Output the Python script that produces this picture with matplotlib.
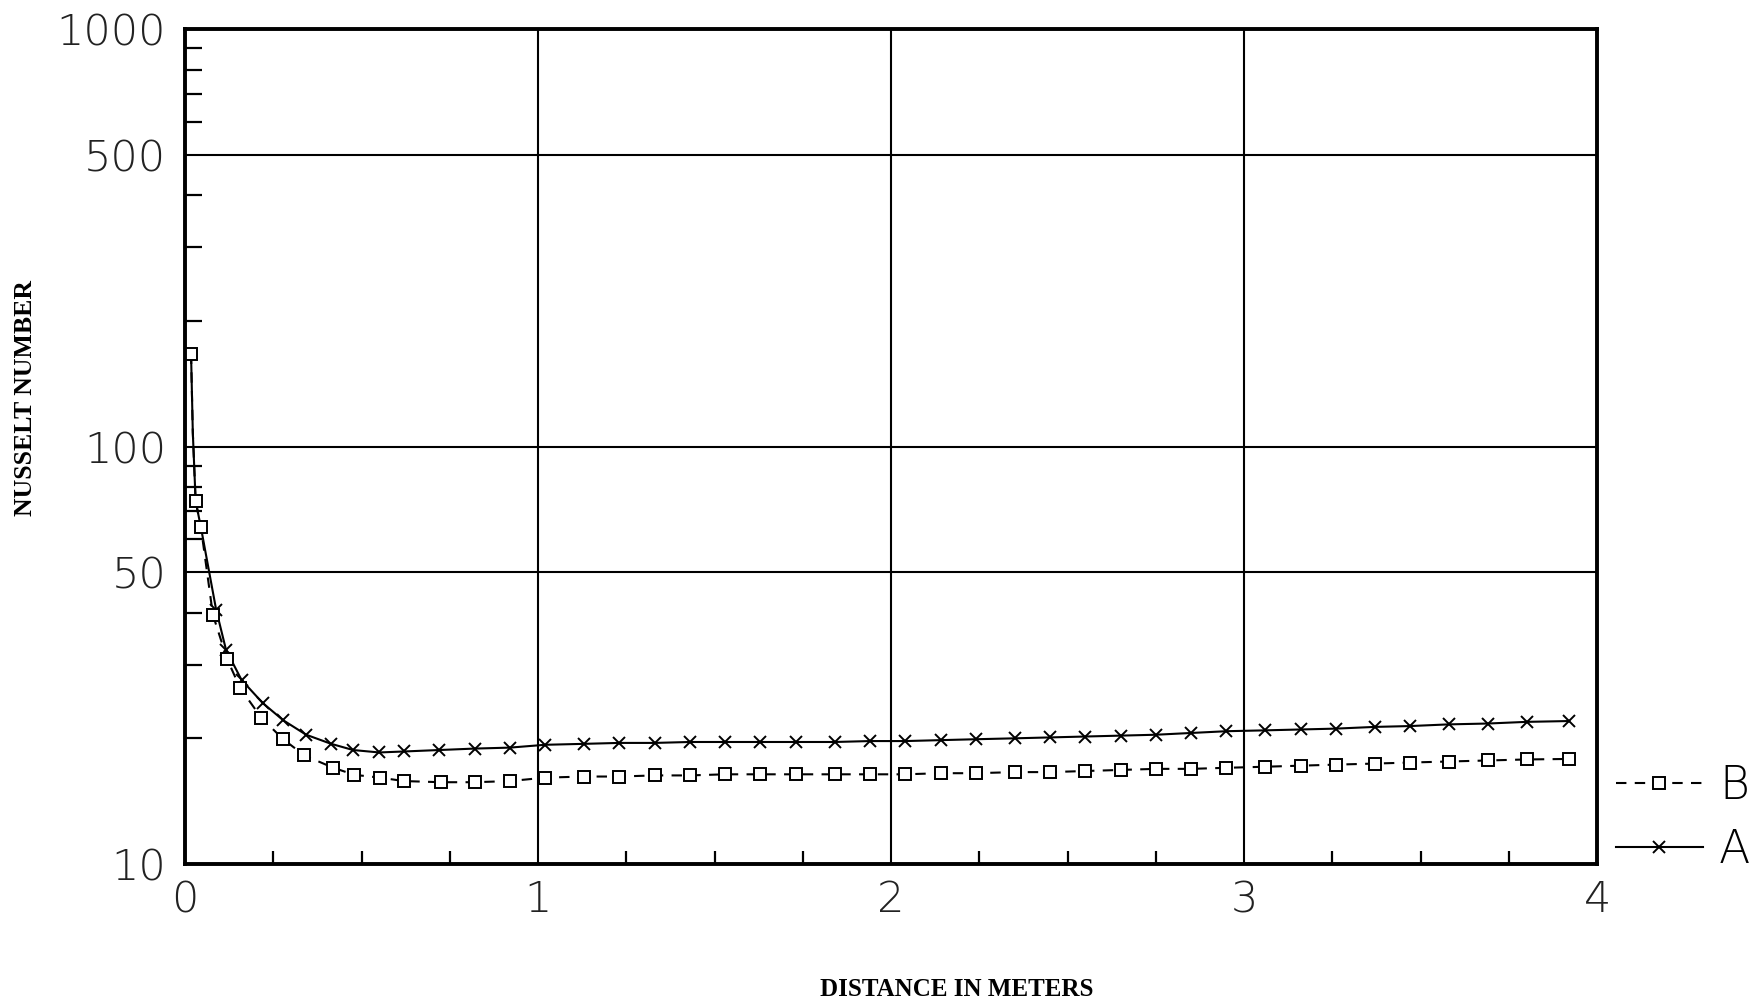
import matplotlib
matplotlib.use("Agg")
import matplotlib.pyplot as plt
from matplotlib.lines import Line2D
from matplotlib.ticker import FixedLocator, NullFormatter, FixedFormatter

# Local Nusselt number along the tube, two cases
x_a = [0.017, 0.022, 0.030, 0.045, 0.088, 0.116, 0.160, 0.220, 0.278, 0.343,
       0.414, 0.476, 0.550, 0.620, 0.720, 0.820, 0.920, 1.020, 1.130, 1.230,
       1.330, 1.430, 1.530, 1.630, 1.730, 1.840, 1.940, 2.040, 2.140, 2.240,
       2.350, 2.450, 2.550, 2.650, 2.750, 2.850, 2.950, 3.060, 3.160, 3.260,
       3.370, 3.470, 3.580, 3.690, 3.800, 3.920]
nu_a = [167, 108, 74, 64, 40.7, 32.6, 27.6, 24.3, 22.1, 20.4,
        19.4, 18.75, 18.5, 18.6, 18.75, 18.9, 19.0, 19.3, 19.4, 19.5,
        19.5, 19.6, 19.6, 19.6, 19.6, 19.6, 19.7, 19.7, 19.8, 19.9,
        20.0, 20.1, 20.2, 20.3, 20.4, 20.6, 20.8, 20.9, 21.0, 21.1,
        21.3, 21.4, 21.6, 21.7, 21.9, 22.0]

x_b = [0.017, 0.022, 0.030, 0.045, 0.079, 0.119, 0.156, 0.216, 0.278, 0.338,
       0.420, 0.480, 0.553, 0.620, 0.726, 0.820, 0.920, 1.020, 1.130, 1.230,
       1.330, 1.430, 1.530, 1.630, 1.730, 1.840, 1.940, 2.040, 2.140, 2.240,
       2.350, 2.450, 2.550, 2.650, 2.750, 2.850, 2.950, 3.060, 3.160, 3.260,
       3.370, 3.470, 3.580, 3.690, 3.800, 3.920]
nu_b = [167, 108, 74, 64, 39.5, 31.0, 26.4, 22.4, 19.9, 18.2,
        17.0, 16.35, 16.1, 15.8, 15.7, 15.7, 15.8, 16.1, 16.2, 16.2,
        16.3, 16.3, 16.4, 16.4, 16.4, 16.4, 16.4, 16.4, 16.5, 16.5,
        16.6, 16.6, 16.7, 16.8, 16.9, 16.9, 17.0, 17.1, 17.2, 17.3,
        17.4, 17.5, 17.6, 17.7, 17.8, 17.85]

series_labels = ["B", "A"]
y_tick_values = [10, 50, 100, 500, 1000]
y_tick_labels = ["10", "50", "100", "500", "1000"]
x_tick_values = [0, 1, 2, 3, 4]
x_tick_labels = ["0", "1", "2", "3", "4"]

TICK_FAMILY = "DejaVu Sans"
TICK_WEIGHT = "light"

style_a = dict(color="black", lw=1.5, linestyle="-", marker="x",
               markersize=8, markeredgewidth=1.4)
style_b = dict(color="black", lw=1.5, linestyle=(0, (5, 4)), marker="s",
               markersize=8, markerfacecolor="white", markeredgecolor="black",
               markeredgewidth=1.4)

fig = plt.figure(figsize=(17.64, 10.05), dpi=100)
ax = fig.add_axes([0.1049, 0.1403, 0.8005, 0.8308])

ax.set_yscale("log")
ax.set_xlim(0, 4)
ax.set_ylim(10, 1000)

# the second vertex is a bend of the curve, not a computed station
marked = [i for i in range(len(x_a)) if i != 1]
ax.plot(x_a, nu_a, markevery=marked, **style_a)
ax.plot(x_b, nu_b, markevery=marked, **style_b)

# ticks and grid
ax.yaxis.set_major_locator(FixedLocator(y_tick_values))
ax.yaxis.set_major_formatter(FixedFormatter(y_tick_labels))
minor_y = [v * d for d in (10, 100) for v in range(2, 10) if v * d not in (50, 500)]
ax.yaxis.set_minor_locator(FixedLocator(minor_y))
ax.yaxis.set_minor_formatter(NullFormatter())
ax.xaxis.set_major_locator(FixedLocator(x_tick_values))
ax.xaxis.set_major_formatter(FixedFormatter(x_tick_labels))
ax.xaxis.set_minor_locator(FixedLocator([q / 4 for q in range(1, 16) if q % 4]))

ax.tick_params(axis="both", which="major", length=0, labelsize=31,
               colors="#222222")
ax.tick_params(axis="x", which="major", pad=11)
ax.tick_params(axis="y", which="major", pad=13.5)
ax.tick_params(axis="y", which="minor", direction="in", length=12, width=1.6)
ax.tick_params(axis="x", which="minor", direction="in", length=9.5, width=1.6)
for lab in ax.get_xticklabels() + ax.get_yticklabels():
    lab.set_fontfamily(TICK_FAMILY)
    lab.set_fontweight(TICK_WEIGHT)

ax.grid(True, which="major", color="black", lw=1.5)
for sp in ax.spines.values():
    sp.set_linewidth(2.8)

# axis titles
fig.text(0.0142, 0.604, "NUSSELT NUMBER", rotation=90, ha="center", va="center",
         family="Liberation Serif", weight="bold", fontsize=18.5)
fig.text(0.5425, 0.015, "DISTANCE IN METERS", ha="center", va="center",
         family="Liberation Serif", weight="bold", fontsize=18)

handles = [Line2D([], [], **style_b), Line2D([], [], **style_a)]
fig.legend(handles=handles, labels=series_labels,
           loc="center left", bbox_to_anchor=(0.916, 0.186),
           frameon=False, numpoints=1, handlelength=1.9, handletextpad=0.35,
           labelspacing=0.45, borderpad=0, borderaxespad=0,
           prop=dict(family=TICK_FAMILY, weight=TICK_WEIGHT, size=33))

fig.savefig("out.png", dpi=100)
